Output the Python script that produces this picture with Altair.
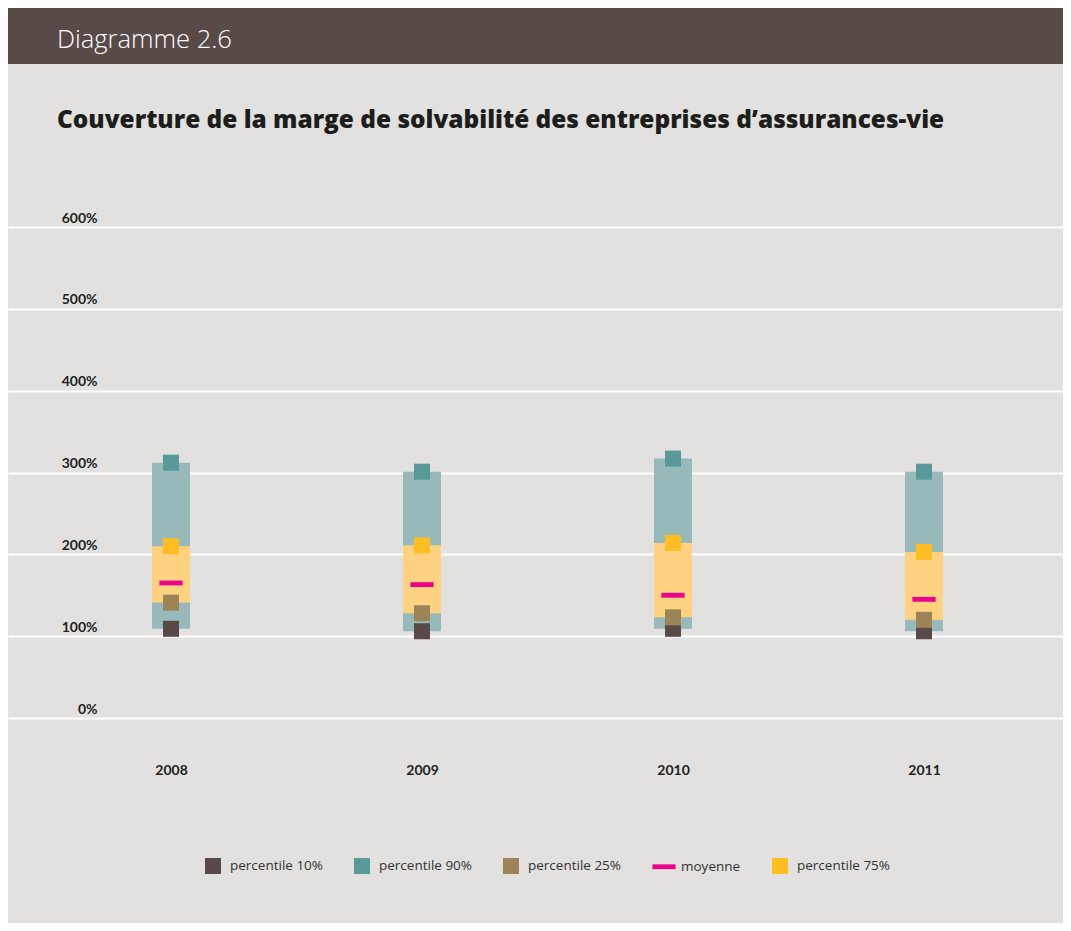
import altair as alt
import pandas as pd

# ---- data ----
years = [2008, 2009, 2010, 2011]
p10 = [109, 106, 109, 106]
p25 = [141, 128, 123, 120]
moyenne = [165, 163, 150, 145]
p75 = [210, 211, 214, 203]
p90 = [312, 301, 317, 301]

series_names = ["percentile 10%", "percentile 90%", "percentile 25%", "moyenne", "percentile 75%"]
series_colors = ["#574a47", "#5a9999", "#9c8456", "#ec008c", "#fdbd23"]
series_shapes = ["square", "square", "square", "M-1.45,-0.3H1.45V0.3H-1.45Z", "square"]

title_text = "Couverture de la marge de solvabilité des entreprises d’assurances-vie"
header_text = "Diagramme 2.6"

wide = pd.DataFrame({"year": years, "p10": p10, "p25": p25, "mean": moyenne, "p75": p75, "p90": p90})

rows = []
for i, yr in enumerate(years):
    for name, vals in zip(series_names, [p10, p90, p25, moyenne, p75]):
        rows.append({"year": yr, "series": name, "value": vals[i]})
long = pd.DataFrame(rows)

LABEL_FONT = "Lato"
PLOT_W = 1055
STEP = 251.0  # pixels per year
X0 = 2008 - 163.0 / STEP
X1 = X0 + PLOT_W / STEP


def xenc():
    return alt.X(
        "year:Q",
        scale=alt.Scale(domain=[X0, X1], nice=False, zero=False, padding=0),
        axis=alt.Axis(title=None, values=years, format="d", labelAngle=0, ticks=False, domain=False,
                      labelPadding=45, labelFont=LABEL_FONT, labelFontWeight="bold", labelFontSize=14,
                      labelColor="#222222", grid=False, labelFlush=False),
    )


def yenc(field):
    return alt.Y(
        field,
        scale=alt.Scale(domain=[0, 600], nice=False, padding=0),
        axis=alt.Axis(title=None, values=[0, 100, 200, 300, 400, 500, 600], ticks=False, domain=False,
                      grid=True, gridColor="#ffffff", gridWidth=2, gridOpacity=1,
                      labelExpr="datum.value + '%'", labelAlign="right", labelBaseline="alphabetic",
                      labelPadding=-89, labelOffset=-5, labelFont=LABEL_FONT, labelFontWeight="bold",
                      labelFontSize=14, labelColor="#222222"),
    )


teal_box = alt.Chart(wide).mark_bar(size=38, color="#97b9b9").encode(
    x=xenc(), y=yenc("p10:Q"), y2="p90:Q"
)
orange_box = alt.Chart(wide).mark_bar(size=38, color="#fed281").encode(
    x=xenc(), y=yenc("p25:Q"), y2="p75:Q"
)

legend_kw = dict(title=None, orient="none", legendX=197, legendY=850, direction="horizontal",
                 columns=5, symbolSize=256, symbolStrokeWidth=0, symbolOpacity=1,
                 labelFont="Open Sans", labelFontSize=13.5, labelColor="#333333",
                 labelOffset=9, columnPadding=31, padding=0)

points = alt.Chart(long).mark_point(filled=True, opacity=1, size=256, strokeWidth=0).encode(
    x=xenc(),
    y=yenc("value:Q"),
    color=alt.Color("series:N", scale=alt.Scale(domain=series_names, range=series_colors),
                    legend=alt.Legend(**legend_kw)),
    shape=alt.Shape("series:N", scale=alt.Scale(domain=series_names, range=series_shapes),
                    legend=alt.Legend(**legend_kw)),
)

main = alt.layer(teal_box, orange_box, points).properties(
    width=PLOT_W,
    height=491,
    title=alt.TitleParams(text=title_text, anchor="start", dx=49, font="Open Sans", fontWeight=800,
                          fontSize=24.4, color="#1d1d1b", offset=78),
    view=alt.ViewBackground(strokeWidth=0),
)

header = alt.Chart(pd.DataFrame({"t": [header_text]})).mark_text(
    align="left", baseline="middle", font="Open Sans", fontWeight=300, fontSize=25.5, color="#ffffff"
).encode(
    text="t:N", x=alt.value(49), y=alt.value(32)
).properties(
    width=PLOT_W, height=56, view=alt.ViewBackground(fill="#574a47", strokeWidth=0)
)

chart = alt.vconcat(header, main, spacing=43).properties(
    background="#e2e1df",
    padding={"left": 0, "top": 0, "right": 0, "bottom": 49},
)

chart.save("out.html", embed_options={"renderer": "svg", "actions": False})
